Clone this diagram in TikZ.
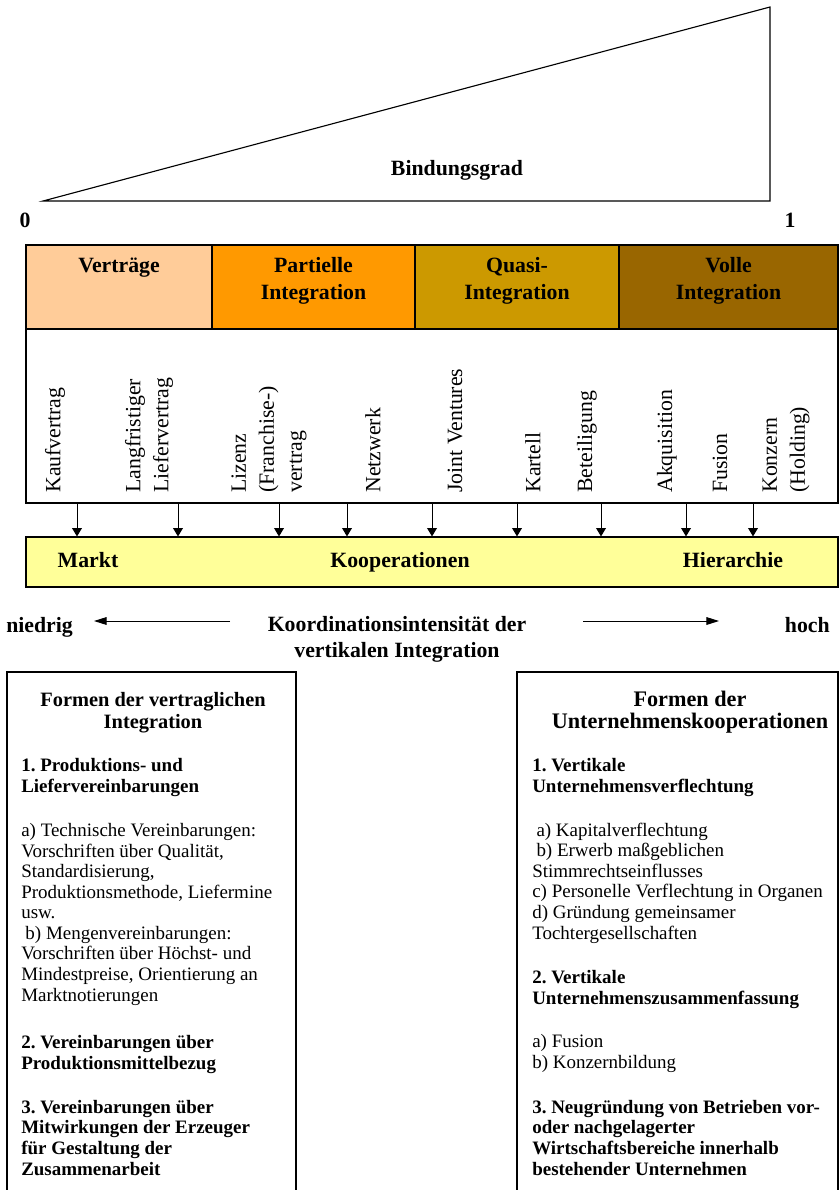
\documentclass[tikz,border=0pt]{standalone}
\usepackage{fontspec}
\setmainfont{Liberation Serif}
\usetikzlibrary{arrows.meta, positioning, fit}
\definecolor{vertragfarbe}{HTML}{FFCC99}
\definecolor{partiellfarbe}{HTML}{FF9900}
\definecolor{quasifarbe}{HTML}{CC9900}
\definecolor{vollfarbe}{HTML}{996600}
\definecolor{bandfarbe}{HTML}{FFFF99}
\frenchspacing

\tikzset{
    zelle/.style={draw, line width=0.8pt, inner sep=0pt},
    kopf/.style={font=\fontsize{15.5}{18.5}\selectfont\bfseries, align=center,
        inner sep=0pt, anchor=base},
    hochkant/.style={rotate=90, anchor=west, align=left, inner sep=0pt,
        font=\fontsize{15.5}{19.9}\selectfont},
    pfeil/.style={-{Triangle[length=6pt,width=7pt]}, line width=0.7pt},
    ueber/.style={font=\fontsize{14.5}{15.6}\selectfont\bfseries, align=center,
        inner sep=0pt, anchor=base},
    txt/.style={font=\fontsize{13.5}{14.6}\selectfont, align=left,
        inner sep=0pt, anchor=base west},
    fett/.style={txt, font=\fontsize{13.5}{14.6}\selectfont\bfseries}
}

\begin{document}
\begin{tikzpicture}[x=0.25mm, y=-0.25mm]
    \useasboundingbox (0,0) rectangle (839,1190);

    % Bindungsgrad
    \draw[line width=0.8pt] (43,201) -- (770,7) -- (770,201) -- cycle;
    \node[kopf] (bind) at (457,175) {Bindungsgrad};
    \node[kopf] (null) at (25,227) {0};
    \node[kopf] (eins) at (790,227) {1};

    % Formen der Integration (base = letzte Zeile)
    \node[zelle, fill=vertragfarbe, fit={(26,245) (212,329)}] (vertr) {};
    \node[zelle, fill=partiellfarbe, fit={(212,245) (415,329)}] (part) {};
    \node[zelle, fill=quasifarbe, fit={(415,245) (619,329)}] (quasi) {};
    \node[zelle, fill=vollfarbe, fit={(619,245) (838,329)}] (voll) {};
    \node[kopf] at (vertr.north |- 0,272.5) {Verträge};
    \node[kopf] at (part.north |- 0,299) {Partielle\\Integration};
    \node[kopf] at (quasi.north |- 0,299) {Quasi-\\Integration};
    \node[kopf] at (voll.north |- 0,299) {Volle\\Integration};

    \node[zelle, fit={(26,329) (838,503)}] (weiss) {};
    \node[zelle, fill=bandfarbe, fit={(26,537) (838,587)}] (band) {};

    \node[hochkant] (kauf) at (55,493) {Kaufvertrag};
    \node[hochkant] (lang) at (149,493) {Langfristiger\\Liefervertrag};
    \node[hochkant] (lizenz) at (269,493) {Lizenz\\(Franchise-)\\vertrag};
    \node[hochkant] (netz) at (373,493) {Netzwerk};
    \node[hochkant] (joint) at (455,493) {Joint Ventures};
    \node[hochkant] (kartell) at (533,493) {Kartell};
    \node[hochkant] (beteil) at (587,493) {Beteiligung};
    \node[hochkant] (akqu) at (667,493) {Akquisition};
    \node[hochkant] (fusion) at (720,493) {Fusion};
    \node[hochkant] (konzern) at (786,493) {Konzern\\(Holding)};

    \foreach \ax in {77,178,279,347,432,517,601,686,753}
        \draw[pfeil] (\ax,0 |- weiss.south) -- (\ax,0 |- band.north);

    \node[kopf] (markt) at (88,567) {Markt};
    \node[kopf] (koop) at (400,567) {Kooperationen};
    \node[kopf] (hier) at (733,567) {Hierarchie};

    % Koordinationsintensitaet
    \node[kopf, anchor=base west] (niedrig) at (6,632) {niedrig};
    \node[kopf] (koord) at (397,657) {Koordinationsintensität der\\vertikalen Integration};
    \node[kopf, anchor=base east] (hoch) at (830,632) {hoch};
    \coordinate (links1) at (230,621);
    \coordinate (links2) at (94,621);
    \coordinate (rechts1) at (583,621);
    \coordinate (rechts2) at (719,621);
    \draw[-{Triangle[length=9pt,width=5.5pt]}, line width=0.7pt] (links1) -- (links2);
    \draw[-{Triangle[length=9pt,width=5.5pt]}, line width=0.7pt] (rechts1) -- (rechts2);

    % vertragliche Integration
    \draw[line width=0.8pt] (7,1200) |- (296,672) -- (296,1200);
    \node[ueber] (vtitel) at (153,728) {Formen der vertraglichen\\Integration};
    \node[fett] (v1) at (21,792) {1. Produktions- und\\Liefervereinbarungen};
    \node[txt] (v1a) at (21,1001) {a) Technische Vereinbarungen:\\Vorschriften über Qualität,\\Standardisierung,\\Produktionsmethode, Liefermine\\usw.\\\hspace{3pt}b) Mengenvereinbarungen:\\Vorschriften über Höchst- und\\Mindestpreise, Orientierung an\\Marktnotierungen};
    \node[fett] (v2) at (21,1069) {2. Vereinbarungen über\\Produktionsmittelbezug};
    \node[fett] (v3) at (21,1175) {3. Vereinbarungen über\\Mitwirkungen der Erzeuger\\für Gestaltung der\\Zusammenarbeit};

    % Unternehmenskooperationen
    \draw[line width=0.8pt] (517,1200) |- (838,672) -- (838,1200);
    \node[ueber, font=\fontsize{15.8}{15.6}\selectfont\bfseries] (ktitel) at (690,728) {Formen der\\Unternehmenskooperationen};
    \node[fett] (k1) at (532,792) {1. Vertikale\\Unternehmensverflechtung};
    \node[txt] (k1a) at (532,939) {\hspace{3pt}a) Kapitalverflechtung\\\hspace{3pt}b) Erwerb maßgeblichen\\Stimmrechtseinflusses\\c) Personelle Verflechtung in Organen\\d) Gründung gemeinsamer\\Tochtergesellschaften};
    \node[fett] (k2) at (532,1004) {2. Vertikale\\Unternehmenszusammenfassung};
    \node[txt] (k2a) at (532,1068) {a) Fusion\\b) Konzernbildung};
    \node[fett] (k3) at (532,1175) {3. Neugründung von Betrieben vor-\\oder nachgelagerter\\Wirtschaftsbereiche innerhalb\\bestehender Unternehmen};

\end{tikzpicture}
\end{document}
